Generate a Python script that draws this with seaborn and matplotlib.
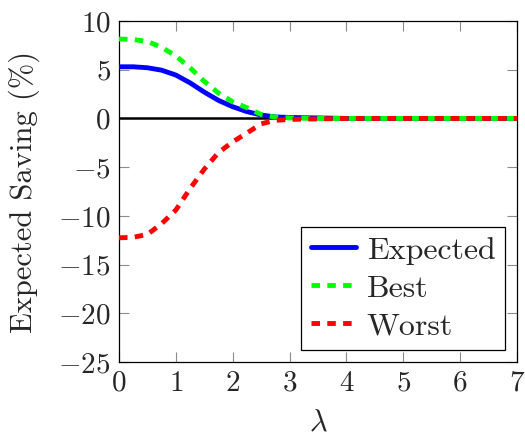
import numpy as np
import pandas as pd
import matplotlib
matplotlib.use("Agg")
import matplotlib.pyplot as plt
import seaborn as sns
from matplotlib.lines import Line2D

lam = [0, 0.25, 0.5, 0.75, 1.0, 1.25, 1.5, 1.75, 2.0, 2.25, 2.5, 2.75, 3.0, 3.5, 4, 5, 6, 7]
expected = [5.3, 5.3, 5.2, 4.95, 4.45, 3.65, 2.7, 1.85, 1.2, 0.7, 0.35, 0.15, 0.1, 0.05, 0, 0, 0, 0]
best = [8.15, 8.1, 7.9, 7.3, 6.4, 5.2, 3.8, 2.6, 1.7, 1.1, 0.4, 0.13, 0.05, 0, 0, 0, 0, 0]
worst = [-12.25, -12.2, -11.9, -10.8, -9.4, -7.2, -5.2, -3.5, -2.4, -1.5, -0.55, -0.2, -0.1, -0.05, 0, 0, 0, 0]
series = ["Expected", "Best", "Worst"]
colors = ["#0000ff", "#00ff00", "#ff0000"]

df = pd.concat([
    pd.DataFrame({"lam": lam, "val": v, "s": n})
    for n, v in zip(series, [expected, best, worst])
])

sns.set_style("ticks")
plt.rcParams["font.family"] = ["cmr10", "DejaVu Sans"]
plt.rcParams["mathtext.fontset"] = "cm"
plt.rcParams["axes.formatter.use_mathtext"] = True

LW = 3.5
fig = plt.figure(figsize=(5.25, 4.41), dpi=100)
ax = fig.add_axes([0.2267, 0.1791, 0.7581, 0.7733])
ax.axhline(0, color="black", lw=1.8, zorder=1)
sns.lineplot(data=df, x="lam", y="val", hue="s", palette=dict(zip(series, colors)),
             ax=ax, lw=LW, legend=False, zorder=3)
lines = ax.get_lines()[1:]
for ln, n in zip(lines, series):
    if n != "Expected":
        ln.set_dashes([1.75, 1.5])
    ln.set_solid_capstyle("butt")
    ln.set_dash_capstyle("butt")

ax.set_xlim(0, 7)
ax.set_ylim(-25, 10)
ax.set_xticks(range(0, 8))
ax.set_yticks(range(-25, 11, 5))
ax.tick_params(direction="in", top=True, right=True, length=7.5, width=0.8,
               color="#8c8c8c", labelsize=21, pad=6)
for sp in ax.spines.values():
    sp.set_color("black")
    sp.set_linewidth(0.9)
ax.set_xlabel(r"$\lambda$", fontsize=22, labelpad=9)
ax.set_ylabel("Expected Saving (%)", fontsize=22, labelpad=13)

handles = [Line2D([], [], color=colors[0], lw=LW),
           Line2D([], [], color=colors[1], lw=LW, dashes=[1.75, 1.5]),
           Line2D([], [], color=colors[2], lw=LW, dashes=[1.75, 1.5])]
leg = ax.legend(handles, series, loc="lower right", bbox_to_anchor=(0.97, 0.035),
                fontsize=23, frameon=True, fancybox=False, edgecolor="black",
                framealpha=1, handlelength=1.4, borderpad=0.3, labelspacing=0.3,
                handletextpad=0.35, borderaxespad=0)
leg.get_frame().set_linewidth(0.9)
fig.savefig("out.png", dpi=100)
